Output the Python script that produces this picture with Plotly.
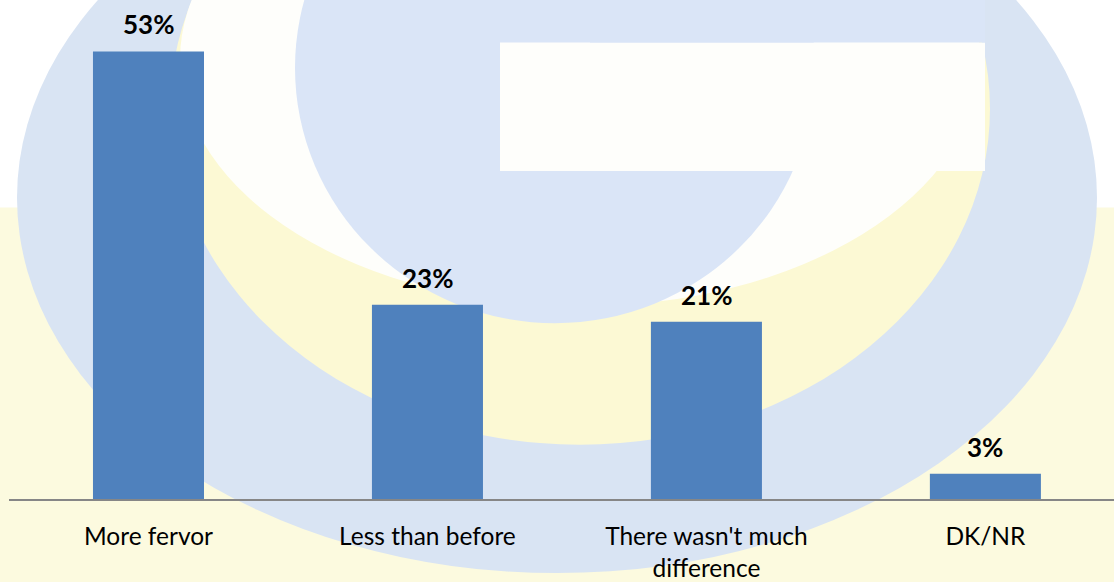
import plotly.graph_objects as go

categories = ["More fervor", "Less than before", "There wasn't much<br>difference", "DK/NR"]
values = [53, 23, 21, 3]
value_labels = ["53%", "23%", "21%", "3%"]

W, H = 1114, 582
ML, MR, MT, MB = 9, 0, 5, 77
PW, PH = W - ML - MR, H - MT - MB


def px(x):
    return (x - ML) / PW


def py(y):
    return (H - MB - y) / PH


def shp(x0, y0, x1, y1, color, kind="rect"):
    return dict(type=kind, xref="paper", yref="paper", layer="below",
                x0=px(x0), x1=px(x1), y0=py(y1), y1=py(y0),
                fillcolor=color, line=dict(width=0))


shapes = [
    shp(-20, 210, 1140, 600, "#fcfadf"),            # pale yellow lower background
    shp(17, -180, 1097, 580, "#d9e4f3", "circle"),   # outer ring
    shp(170, -230, 990, 450, "#fcf9d4", "circle"),   # inner area (yellow bottom)
    shp(180, -190, 980, 310, "#fefefb", "circle"),   # inner area (white top)
    shp(295, -190, 815, 327, "#dae5f7", "circle"),   # G body
    shp(500, 43, 985, 173, "#fefefb"),               # G notch
    shp(590, -10, 985, 43, "#dae5f7"),               # G top arm
]

fig = go.Figure()
fig.add_trace(go.Bar(
    x=categories, y=values, width=0.398,
    marker=dict(color="#4f81bd", line=dict(width=0)),
    hoverinfo="skip",
))

for c, v, t in zip(categories, values, value_labels):
    fig.add_annotation(x=c, y=v, text=f"<b>{t}</b>", showarrow=False,
                       yshift=27, yanchor="middle",
                       font=dict(family="Lato", size=26, color="#000000"))

fig.update_layout(
    width=W, height=H,
    margin=dict(l=ML, r=MR, t=MT, b=MB, pad=0),
    paper_bgcolor="white", plot_bgcolor="rgba(0,0,0,0)",
    showlegend=False,
    shapes=shapes,
    font=dict(family="Lato", color="#000000"),
)
fig.update_xaxes(
    type="category", range=[-0.5, 3.461],
    showline=True, linecolor="#868686", linewidth=1.5,
    ticks="outside", ticklen=15, tickcolor="rgba(0,0,0,0)",
    tickfont=dict(family="Lato", size=24.5, color="#000000"),
    showgrid=False, zeroline=False,
)
fig.update_yaxes(range=[0, 58.5], visible=False, showgrid=False, zeroline=False)

fig.write_html(
    "out.html",
    config={"displayModeBar": False},
    post_script="document.body.style.margin='0';document.body.style.overflow='hidden';",
)
